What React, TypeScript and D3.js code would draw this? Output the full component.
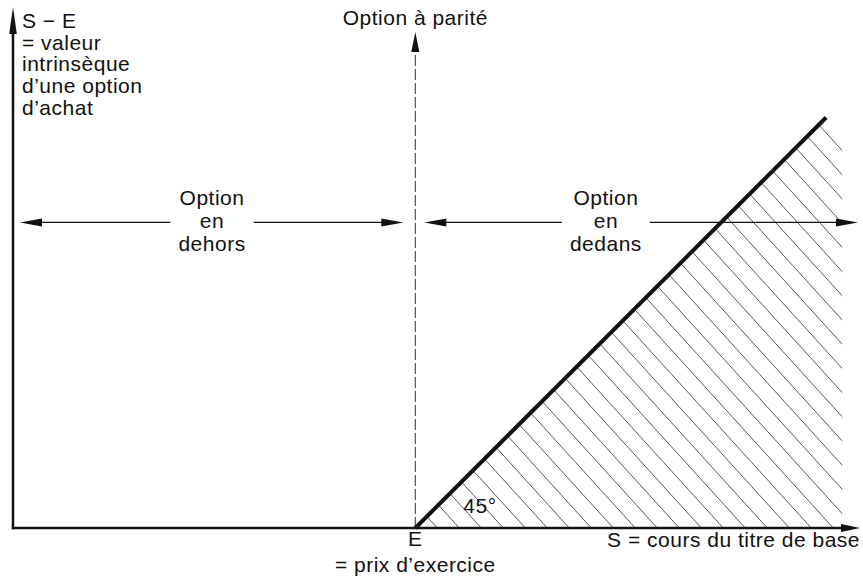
import { useEffect, useRef } from "react";
import { select, scaleLinear, line } from "d3";

const W = 863;
const H = 579;

// S = cours du titre, value = S - E (valeur intrinsèque)
const strike = 47.5;
const payoffS = [47.5, 96];
const payoffValue = [0, 48.5];
const hatchEdgeS = 97.9;
const parityTopValue = 58.6;

const yLabelLines = ["S − E", "= valeur", "intrinsèque", "d’une option", "d’achat"];
const xLabel = "S = cours du titre de base";
const strikeLabels = ["E", "= prix d’exercice"];
const parityLabel = "Option à parité";
const angleLabel = "45°";

const zoneFromS = [0, 47.5];
const zoneToS = [47.5, 100];
const zoneLabelS = [23.5, 70];
const zoneArrowValue = 36.1;
const zoneLabelLines = [
  ["Option", "en", "dehors"],
  ["Option", "en", "dedans"],
];

const FONT = "'Liberation Sans', Arial, Helvetica, sans-serif";

function App() {
  const svgRef = useRef<SVGSVGElement>(null);

  useEffect(() => {
    const svg = select(svgRef.current);
    svg.selectAll("*").remove();

    const x = scaleLinear().domain([0, 100]).range([13, 860]);
    const y = scaleLinear().domain([0, 61.2]).range([528, 10]);

    const ink = "#111";
    const txt = (sel) =>
      sel
        .attr("font-family", FONT)
        .attr("font-size", 21)
        .attr("letter-spacing", 0.5)
        .attr("fill", ink);

    // filled slim triangle, dir is unit vector pointing at the tip
    const head = (tx, ty, dx, dy, len, half) => {
      const bx = tx - dx * len;
      const by = ty - dy * len;
      const px = -dy * half;
      const py = dx * half;
      svg
        .append("polygon")
        .attr(
          "points",
          `${tx},${ty} ${bx + px},${by + py} ${bx - px},${by - py}`
        )
        .attr("fill", ink);
    };

    // hatching (clipped to the in-the-money region)
    const slope = 1.1;
    const x0 = x(strike);
    const y0 = y(0);
    const xTop = x(payoffS[1]);
    const yTop = y(payoffValue[1]);
    const xEdge = x(hatchEdgeS);
    svg
      .append("defs")
      .append("clipPath")
      .attr("id", "hatchClip")
      .append("polygon")
      .attr(
        "points",
        [
          [x0, y0],
          [xTop, yTop],
          [xEdge, yTop + (xEdge - xTop) * slope],
          [xEdge, y0],
        ]
          .map((p) => p.join(","))
          .join(" ")
      );

    const hatch = svg.append("g").attr("clip-path", "url(#hatchClip)");
    for (let xa = x0 + 22; xa < xEdge + 520; xa += 22) {
      hatch
        .append("line")
        .attr("x1", xa)
        .attr("y1", y0)
        .attr("x2", xa - 500)
        .attr("y2", y0 - 500 * slope)
        .attr("stroke", "#3a3a3a")
        .attr("stroke-width", 0.85);
    }

    // vertical dashed line at E
    const parityTip = y(parityTopValue);
    svg
      .append("line")
      .attr("x1", x0)
      .attr("x2", x0)
      .attr("y1", y0)
      .attr("y2", parityTip + 18)
      .attr("stroke", "#444")
      .attr("stroke-width", 1.1)
      .attr("stroke-dasharray", "11 3");
    head(x0, parityTip, 0, -1, 20, 4);

    // zone arrows + labels
    const ay = y(zoneArrowValue);
    zoneLabelLines.forEach((lines, i) => {
      const cx = x(zoneLabelS[i]);
      const offsets = [-17, 6, 29];
      let maxW = 0;
      lines.forEach((l, j) => {
        const t = svg
          .append("text")
          .call(txt)
          .attr("x", cx)
          .attr("y", ay + offsets[j])
          .attr("text-anchor", "middle")
          .text(l);
        maxW = Math.max(maxW, t.node().getComputedTextLength());
      });
      const gap = maxW / 2 + 8;
      const tipL = x(zoneFromS[i]) + (zoneFromS[i] === 0 ? 7 : 9);
      const tipR = x(zoneToS[i]) - (zoneToS[i] >= 100 ? 2 : 12);
      svg
        .append("line")
        .attr("x1", tipL + 10)
        .attr("x2", cx - gap)
        .attr("y1", ay)
        .attr("y2", ay)
        .attr("stroke", ink)
        .attr("stroke-width", 1.3);
      svg
        .append("line")
        .attr("x1", cx + gap)
        .attr("x2", tipR - 10)
        .attr("y1", ay)
        .attr("y2", ay)
        .attr("stroke", ink)
        .attr("stroke-width", 1.3);
      head(tipL, ay, -1, 0, 22, 4);
      head(tipR, ay, 1, 0, 22, 4);
    });

    // intrinsic value line
    const payoff = payoffS.map((s, i) => [s, payoffValue[i]]);
    svg
      .append("path")
      .attr(
        "d",
        line()
          .x((d) => x(d[0]))
          .y((d) => y(d[1]))(payoff)
      )
      .attr("fill", "none")
      .attr("stroke", ink)
      .attr("stroke-width", 4)
      .attr("stroke-linecap", "butt");

    // axes
    svg
      .append("line")
      .attr("x1", x(0))
      .attr("x2", x(0))
      .attr("y1", y0 + 1.2)
      .attr("y2", y(61.2) + 20)
      .attr("stroke", ink)
      .attr("stroke-width", 2.5);
    head(x(0), y(61.2) - 3, 0, -1, 27, 3.8);

    svg
      .append("line")
      .attr("x1", x(0) - 1.2)
      .attr("x2", x(100) - 14)
      .attr("y1", y0)
      .attr("y2", y0)
      .attr("stroke", ink)
      .attr("stroke-width", 2.6);
    head(x(100), y0, 1, 0, 19, 4);

    // texts
    yLabelLines.forEach((l, i) => {
      svg
        .append("text")
        .call(txt)
        .attr("x", 22)
        .attr("y", 28 + i * 21.7)
        .text(l);
    });

    svg
      .append("text")
      .call(txt)
      .attr("x", x0)
      .attr("y", 25)
      .attr("text-anchor", "middle")
      .text(parityLabel);

    svg
      .append("text")
      .call(txt)
      .attr("x", x(100))
      .attr("y", y0 + 19)
      .attr("text-anchor", "end")
      .text(xLabel);

    strikeLabels.forEach((l, i) => {
      svg
        .append("text")
        .call(txt)
        .attr("x", x0)
        .attr("y", y0 + 18 + i * 26)
        .attr("text-anchor", "middle")
        .text(l);
    });

    svg
      .append("text")
      .call(txt)
      .attr("x", x0 + 48)
      .attr("y", y0 - 15)
      .text(angleLabel);
  }, []);

  return (
    <div style={{ position: "absolute", left: 0, top: 0, background: "#fff" }}>
      <svg ref={svgRef} width={W} height={H} style={{ display: "block" }}></svg>
    </div>
  );
}

export default App;
